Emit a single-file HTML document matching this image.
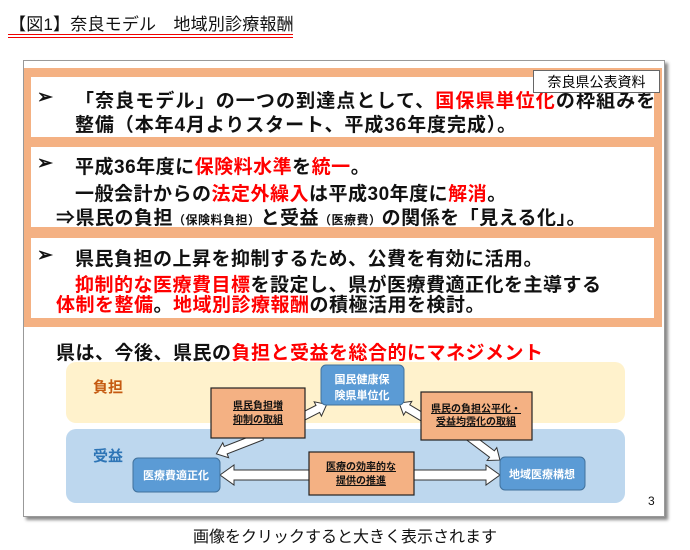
<!DOCTYPE html>
<html><head><meta charset="utf-8"><style>
body{margin:0;width:690px;height:550px;background:#fff;position:relative;overflow:hidden;font-family:"Liberation Sans","Noto Sans CJK JP",sans-serif;}
.a{position:absolute;white-space:nowrap;}
.r{color:#f00;}
.t{font-size:19px;font-weight:bold;color:#111;letter-spacing:0.5px;}
.s{font-size:12px;}
</style></head><body>
<div class="a" style="left:9px;top:10px;font-size:17px;color:#111;letter-spacing:0.2px;">【図1】奈良モデル　地域別診療報酬</div>
<div class="a" style="left:8px;top:34px;width:285px;height:1px;background:#e00;"></div>
<div class="a" style="left:8px;top:37px;width:285px;height:1px;background:#e00;"></div>

<div class="a" style="left:23px;top:60px;width:640px;height:455px;border:1px solid #999;box-shadow:3px 3px 3px #888;background:#fff;"></div>
<div class="a" style="left:24px;top:68px;width:638px;height:259px;background:#f4b183;"></div>
<div class="a" style="left:31px;top:77px;width:623px;height:60px;background:#fff;"></div>
<div class="a" style="left:31px;top:147px;width:623px;height:80px;background:#fff;"></div>
<div class="a" style="left:31px;top:238px;width:623px;height:80px;background:#fff;"></div>

<div class="a t" style="left:37px;top:86px;">➢</div>
<div class="a t" style="left:75px;top:86px;letter-spacing:1.1px;">「奈良モデル」の一つの到達点として、<span class="r">国保県単位化</span>の枠組みを</div>
<div class="a t" style="left:75px;top:110px;letter-spacing:0.9px;">整備（本年4月よりスタート、平成36年度完成）。</div>
<div class="a" style="left:533px;top:70px;width:127px;height:23px;border:1px solid #666;background:#fff;font-size:14px;text-align:center;line-height:23px;box-sizing:border-box;">奈良県公表資料</div>

<div class="a t" style="left:37px;top:152px;">➢</div>
<div class="a t" style="left:75px;top:152px;">平成36年度に<span class="r">保険料水準</span>を<span class="r">統一</span>。</div>
<div class="a t" style="left:75px;top:179px;">一般会計からの<span class="r">法定外繰入</span>は平成30年度に<span class="r">解消</span>。</div>
<div class="a t" style="left:56px;top:203px;">⇒県民の負担<span class="s">（保険料負担）</span>と受益<span class="s">（医療費）</span>の関係を「見える化」。</div>

<div class="a t" style="left:37px;top:244px;">➢</div>
<div class="a t" style="left:75px;top:244px;">県民負担の上昇を抑制するため、公費を有効に活用。</div>
<div class="a t" style="left:75px;top:270px;"><span class="r">抑制的な医療費目標</span>を設定し、県が医療費適正化を主導する</div>
<div class="a t" style="left:56px;top:290px;"><span class="r">体制を整備</span>。<span class="r">地域別診療報酬</span>の積極活用を検討。</div>

<div class="a t" style="left:56px;top:338px;">県は、今後、県民の<span class="r">負担と受益を総合的にマネジメント</span></div>

<svg class="a" style="left:0;top:0" width="690" height="550">
<rect x="66" y="362" width="559" height="61" rx="10" fill="#fff2cc"/>
<rect x="66" y="429" width="559" height="74" rx="10" fill="#bdd7ee"/>
<text x="93" y="392" font-size="15" font-weight="bold" fill="#c55a11" font-family="Noto Sans CJK JP">負担</text>
<text x="93" y="461" font-size="15" font-weight="bold" fill="#2e75b6" font-family="Noto Sans CJK JP">受益</text>
<g fill="#fff" stroke="#333" stroke-width="1">
<polygon transform="translate(300,418) rotate(-27)" points="0,-4 20,-4 20,-8 30,0 20,8 20,4 0,4"/>
<polygon transform="translate(262,436) rotate(158.6)" points="0,-4 39,-4 39,-8 49,0 39,8 39,4 0,4"/>
<polygon transform="translate(424,418) rotate(211)" points="0,-4 19,-4 19,-8 29,0 19,8 19,4 0,4"/>
<polygon transform="translate(468,436) rotate(37)" points="0,-4 30,-4 30,-8 40,0 30,8 30,4 0,4"/>
<polygon points="220,475 234,465 234,470 486,470 486,465 500,475 486,485 486,480 234,480 234,485"/>
</g>
<g fill="#5b9bd5" stroke="#41719c">
<rect x="321" y="365" width="83" height="40" rx="5"/>
<rect x="133" y="458" width="87" height="34" rx="5"/>
<rect x="500" y="457" width="85" height="33" rx="5"/>
</g>
<g fill="#fff" font-size="11" font-weight="bold" text-anchor="middle" font-family="Noto Sans CJK JP">
<text x="362" y="383">国民健康保</text><text x="362" y="399">険県単位化</text>
<text x="176" y="479">医療費適正化</text>
<text x="542" y="478">地域医療構想</text>
</g>
<g fill="#f4b183" stroke="#222" stroke-width="1.2">
<rect x="211" y="388" width="94" height="50"/>
<rect x="421" y="392" width="111" height="48"/>
<rect x="309" y="452" width="105" height="43"/>
</g>
<g fill="#111" font-size="10" font-weight="bold" text-anchor="middle" font-family="Noto Sans CJK JP" text-decoration="underline">
<text x="258" y="409">県民負担増</text><text x="258" y="423">抑制の取組</text>
<text x="476" y="412">県民の負担公平化・</text><text x="476" y="425">受益均霑化の取組</text>
<text x="361" y="470">医療の効率的な</text><text x="361" y="484">提供の推進</text>
</g>
<text x="648" y="505" font-size="12" fill="#111">3</text>
</svg>
<div class="a" style="left:0;width:690px;top:523px;text-align:center;font-size:16px;color:#111;">画像をクリックすると大きく表示されます</div>
</body></html>
